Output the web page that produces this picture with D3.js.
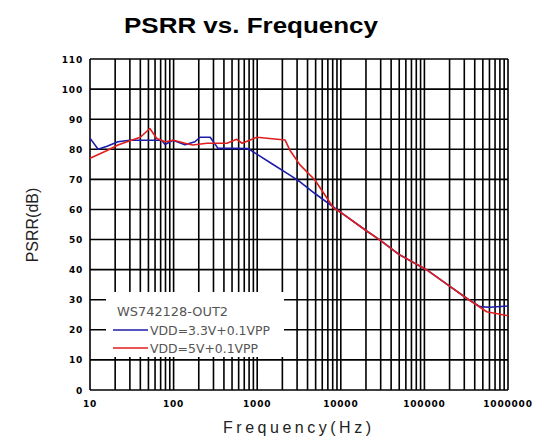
<!DOCTYPE html>
<html>
<head>
<meta charset="UTF-8">
<title>PSRR vs. Frequency</title>
<script src="https://d3js.org/d3.v7.min.js"></script>
<style>
  body { margin: 0; background: #fff; }
  svg { display: block; }
</style>
</head>
<body>
<div id="chart"></div>
<script>
// chart values
var xTicks = [10, 100, 1000, 10000, 100000, 1000000];
var yTicks = [0, 10, 20, 30, 40, 50, 60, 70, 80, 90, 100, 110];

var freqBlue = [10, 12.5, 16, 21.6, 30, 50, 72, 79, 98, 137, 180, 207, 274, 340, 500, 776,
                1000, 1500, 2460, 3250, 4900, 9800, 20000, 29500, 50000, 107000, 200000,
                320000, 462000, 600000, 1000000];
var psrrBlue = [83.7, 80, 81, 82.5, 83, 83, 83, 81.6, 83, 81.5, 82.5, 84, 84, 80.3, 80.3, 80.2,
                78.3, 75.2, 71.4, 69.2, 65.3, 59.2, 53, 49.8, 45, 39.9, 34.5,
                30.5, 27.7, 27.5, 27.9];

var freqRed = [10, 15.8, 21.6, 30, 40, 52, 63, 79, 100, 137, 170, 250, 435, 570, 660, 990,
               2150, 2460, 3250, 4900, 8200, 10000, 20000, 29500, 50000, 107000, 200000,
               320000, 556000, 1000000];
var psrrRed = [77, 79.5, 81.4, 82.8, 84, 86.9, 83.6, 82.5, 83, 82, 81.4, 82, 82, 83.3, 82, 84,
               83.1, 79.7, 74.8, 69.8, 60.5, 59, 53, 49.8, 45, 39.9, 34.5,
               30.5, 26, 24.7];

var legendTitle = "WS742128-OUT2";
var seriesNames = ["VDD=3.3V+0.1VPP", "VDD=5V+0.1VPP"];
var seriesColors = ["#1c1caa", "#e01e1e"];

var width = 538, height = 439;
var svg = d3.select("#chart").append("svg")
    .attr("width", width)
    .attr("height", height);

var x = d3.scaleLog().domain([10, 1000000]).range([90, 508]);
var y = d3.scaleLinear().domain([0, 110]).range([390, 59]);

// title
svg.append("text")
    .attr("x", 251).attr("y", 33)
    .attr("text-anchor", "middle")
    .attr("textLength", 254)
    .attr("lengthAdjust", "spacingAndGlyphs")
    .style("font-family", "Liberation Sans, Arial, sans-serif")
    .style("font-weight", "bold")
    .style("font-size", "22px")
    .text("PSRR vs. Frequency");

// grid: every 1..9 in each decade, and every 10 dB
var minor = [];
for (var d = 10; d < 1000000; d *= 10) {
    for (var k = 1; k < 10; k++) minor.push(d * k);
}
minor.push(1000000);

var grid = svg.append("g")
    .attr("stroke", "#000")
    .attr("stroke-width", 1.6);

grid.selectAll("line.v")
    .data(minor)
    .enter().append("line")
    .attr("class", "v")
    .attr("x1", function (f) { return x(f); })
    .attr("x2", function (f) { return x(f); })
    .attr("y1", y(110))
    .attr("y2", y(0));

grid.selectAll("line.h")
    .data(yTicks)
    .enter().append("line")
    .attr("class", "h")
    .attr("x1", x(10))
    .attr("x2", x(1000000))
    .attr("y1", function (v) { return y(v); })
    .attr("y2", function (v) { return y(v); });

// tick labels
svg.selectAll("text.yl")
    .data(yTicks)
    .enter().append("text")
    .attr("class", "yl")
    .attr("x", 83)
    .attr("y", function (v) { return y(v) + 3.5; })
    .attr("text-anchor", "end")
    .style("font-family", "DejaVu Sans, sans-serif")
    .style("font-weight", "bold")
    .style("font-size", "9px")
    .style("letter-spacing", "0.8px")
    .text(function (v) { return v; });

svg.selectAll("text.xl")
    .data(xTicks)
    .enter().append("text")
    .attr("class", "xl")
    .attr("x", function (f) { return x(f); })
    .attr("y", 407)
    .attr("text-anchor", "middle")
    .style("font-family", "DejaVu Sans, sans-serif")
    .style("font-weight", "bold")
    .style("font-size", "9px")
    .style("letter-spacing", "0.8px")
    .text(function (f) { return f; });

// axis titles
svg.append("text")
    .attr("x", 297).attr("y", 433)
    .attr("text-anchor", "middle")
    .attr("textLength", 148)
    .attr("lengthAdjust", "spacing")
    .style("font-family", "Liberation Sans, Arial, sans-serif")
    .style("font-size", "16px")
    .style("fill", "#222")
    .text("Frequency(Hz)");

svg.append("text")
    .attr("transform", "translate(38,225) rotate(-90)")
    .attr("text-anchor", "middle")
    .style("font-family", "Liberation Sans, Arial, sans-serif")
    .style("font-size", "16px")
    .style("fill", "#222")
    .text("PSRR(dB)");

// curves
var line = d3.line()
    .x(function (d) { return x(d[0]); })
    .y(function (d) { return y(d[1]); });

var series = [
    d3.zip(freqBlue, psrrBlue),
    d3.zip(freqRed, psrrRed)
];

svg.selectAll("path.curve")
    .data(series)
    .enter().append("path")
    .attr("class", "curve")
    .attr("d", line)
    .attr("fill", "none")
    .attr("stroke", function (d, i) { return seriesColors[i]; })
    .attr("stroke-width", 1.6)
    .attr("stroke-linejoin", "round");

// legend box hides the grid beneath it
var lg = svg.append("g");
lg.append("rect")
    .attr("x", 106).attr("y", 292)
    .attr("width", 178).attr("height", 65)
    .attr("fill", "#fff");

lg.append("text")
    .attr("x", 117).attr("y", 316)
    .attr("textLength", 111)
    .attr("lengthAdjust", "spacingAndGlyphs")
    .style("font-family", "DejaVu Sans, sans-serif")
    .style("font-size", "12px")
    .style("fill", "#555")
    .text(legendTitle);

var nameWidths = [120, 108];
seriesNames.forEach(function (name, i) {
    var ly = 330 + i * 18;
    lg.append("line")
        .attr("x1", 113).attr("x2", 148)
        .attr("y1", ly).attr("y2", ly)
        .attr("stroke", seriesColors[i])
        .attr("stroke-width", 1.5);
    lg.append("text")
        .attr("x", 150).attr("y", ly + 4.5)
        .attr("textLength", nameWidths[i])
        .attr("lengthAdjust", "spacingAndGlyphs")
        .style("font-family", "DejaVu Sans, sans-serif")
        .style("font-size", "12px")
        .style("fill", "#555")
        .text(name);
});
</script>
</body>
</html>
